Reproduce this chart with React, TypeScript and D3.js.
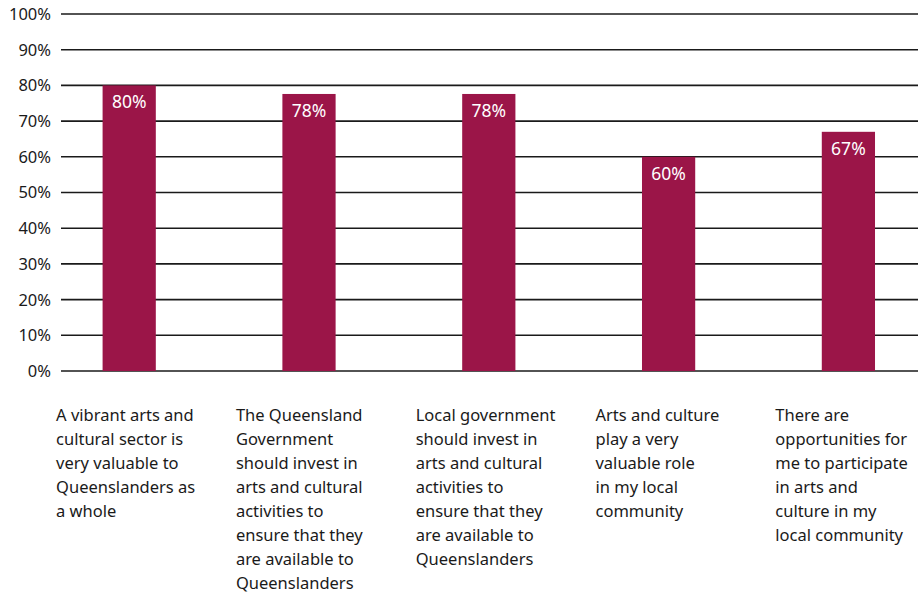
import React from "react";
import * as d3 from "d3";

const categories: string[][] = [
  ["A vibrant arts and", "cultural sector is", "very valuable to", "Queenslanders as", "a whole"],
  ["The Queensland", "Government", "should invest in", "arts and cultural", "activities to", "ensure that they", "are available to", "Queenslanders"],
  ["Local government", "should invest in", "arts and cultural", "activities to", "ensure that they", "are available to", "Queenslanders"],
  ["Arts and culture", "play a very", "valuable role", "in my local", "community"],
  ["There are", "opportunities for", "me to participate", "in arts and", "culture in my", "local community"],
];
const values: number[] = [80, 77.6, 77.6, 60, 67];
const valueLabels: string[] = ["80%", "78%", "78%", "60%", "67%"];
const yTicks: number[] = [0, 10, 20, 30, 40, 50, 60, 70, 80, 90, 100];

const W = 918;
const H = 593;
const FONT = "'Noto Sans', sans-serif";

const App: React.FC = () => {
  const ids = categories.map((_, i) => String(i));
  // step ~179.8, bars ~53px wide, first bar starting near x=103
  const x = d3.scaleBand<string>()
    .domain(ids)
    .range([39.3, 938.3])
    .paddingInner(0.704)
    .paddingOuter(0.352);
  const y = d3.scaleLinear().domain([0, 100]).range([371, 14]);

  return (
    <svg width={W} height={H} style={{ position: "absolute", left: 0, top: 0, background: "#fff" }}>
      {/* grid lines + y ticks */}
      {yTicks.map(t => (
        <g key={t}>
          <line x1={61} x2={W} y1={y(t)} y2={y(t)} stroke="#1a1a1a" strokeWidth={1.6} />
          <text x={51} y={y(t)} dy="0.36em" textAnchor="end" fontFamily={FONT} fontSize={16.5} fill="#1a1a1a">
            {t}%
          </text>
        </g>
      ))}
      {/* bars */}
      {values.map((v, i) => (
        <g key={i}>
          <rect
            x={x(ids[i])!}
            y={y(v)}
            width={x.bandwidth()}
            height={y(0) - y(v)}
            fill="#9b1548"
          />
          <text
            x={x(ids[i])! + x.bandwidth() / 2}
            y={y(v) + 23}
            textAnchor="middle"
            fontFamily={FONT}
            fontSize={17.5}
            fill="#fff"
          >
            {valueLabels[i]}
          </text>
        </g>
      ))}
      {/* category labels */}
      {categories.map((lines, i) => (
        <text key={i} fontFamily={FONT} fontSize={16.5} fill="#1a1a1a">
          {lines.map((l, j) => (
            <tspan key={j} x={x(ids[i])! - 46.5} y={421 + j * 24}>
              {l}
            </tspan>
          ))}
        </text>
      ))}
    </svg>
  );
};

export default App;
